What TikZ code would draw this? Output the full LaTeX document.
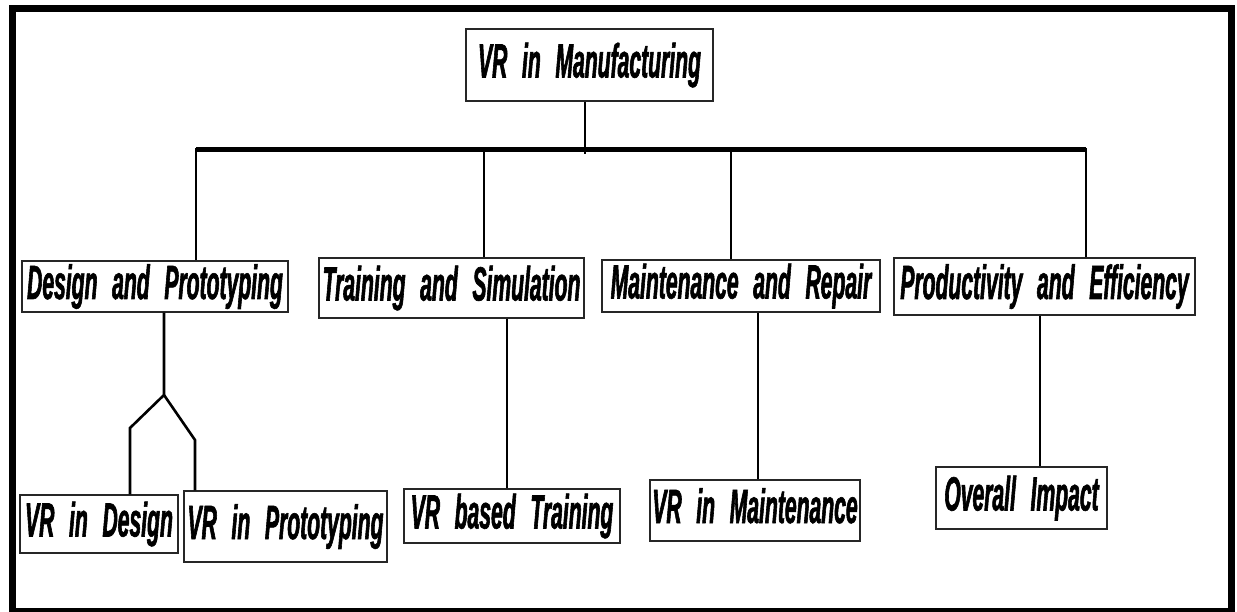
\documentclass[tikz,border=0pt]{standalone}
\usepackage{fontspec}
\newfontfamily\vrfont[FakeStretch=0.44,WordSpace=2.5,FakeBold=1.2]{Liberation Sans}
\begin{document}
\begin{tikzpicture}[x=1pt,y=-1pt,
  box/.style={draw=black!85, line width=1.3pt, inner sep=0pt, fill=white,
    font=\vrfont\bfseries\itshape\fontsize{48}{52}\selectfont,
    text height=35pt, text depth=10pt, align=center},
  link/.style={line width=2.6pt, black, line join=miter},
  bus/.style={line width=5pt, black}
]
\useasboundingbox (0,0) rectangle (1237,612);
\draw[line width=7pt] (12,9) rectangle (1231,611);

% nodes
\node[box, minimum width=247pt, minimum height=72pt] (root) at (589.5,65) {VR in Manufacturing};
\node[box, minimum width=266pt, minimum height=51pt] (design) at (155,286.5) {Design and Prototyping};
\node[box, minimum width=265pt, minimum height=60pt] (training) at (451.5,288) {Training and Simulation};
\node[box, minimum width=278pt, minimum height=52pt] (maint) at (741,286) {Maintenance and Repair};
\node[box, minimum width=301pt, minimum height=57pt] (prod) at (1044.5,286.5) {Productivity and Efficiency};
\node[box, minimum width=158pt, minimum height=58pt] (vrdesign) at (99,524) {VR in Design};
\node[box, minimum width=203pt, minimum height=71pt] (vrproto) at (285.5,526.5) {VR in Prototyping};
\node[box, minimum width=216pt, minimum height=54pt] (vrtrain) at (512,516) {VR based Training};
\node[box, minimum width=210pt, minimum height=61pt] (vrmaint) at (755,510.5) {VR in Maintenance};
\node[box, minimum width=171pt, minimum height=62pt] (impact) at (1021.5,498) {Overall Impact};

% bus coordinates
\coordinate (bL) at (196,150);
\coordinate (b2) at (484,150);
\coordinate (b3) at (731,150);
\coordinate (bR) at (1086,150);
\coordinate (rs) at (585,154);
\coordinate (fork) at (164,395);
\coordinate (fl) at (130,428);
\coordinate (fr) at (195,440);
\coordinate (tx) at (507,0);
\coordinate (mx) at (758,0);
\coordinate (px) at (1040,0);

% connectors
\draw[link] (rs |- root.south) -- (rs);
\draw[bus] (bL) -- (bR);
\draw[link] ([yshift=2pt]bL) -- (bL |- design.north);
\draw[link] (b2) -- (b2 |- training.north);
\draw[link] (b3) -- (b3 |- maint.north);
\draw[link] ([yshift=2pt]bR) -- (bR |- prod.north);

\draw[link] (fork |- design.south) -- (fork) -- (fl) -- (fl |- vrdesign.north);
\draw[link] (fork) -- (fr) -- (fr |- vrproto.north);
\draw[link] (tx |- training.south) -- (tx |- vrtrain.north);
\draw[link] (mx |- maint.south) -- (mx |- vrmaint.north);
\draw[link] (px |- prod.south) -- (px |- impact.north);
\end{tikzpicture}
\end{document}
